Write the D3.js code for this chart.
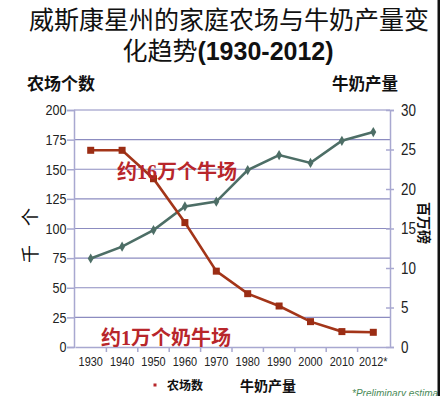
<!DOCTYPE html>
<html><head><meta charset="utf-8">
<script src="https://cdnjs.cloudflare.com/ajax/libs/d3/7.8.5/d3.min.js"></script>
<style>body{margin:0;background:#fff}svg{display:block}</style>
</head><body>
<svg id="c" width="440" height="396"></svg>
<script>
const years = ["1930","1940","1950","1960","1970","1980","1990","2000","2010","2012*"];
const farms = [166,166,142,105,64,45,34.6,21.4,13,12.4];   // 千个
const milk = [11.2,12.7,14.8,17.8,18.4,22.4,24.3,23.3,26.1,27.2]; // 百万磅
const leftTicks = [0,25,50,75,100,125,150,175,200];
const rightTicks = [0,5,10,15,20,25,30];

const svg = d3.select("#c");
const cjk = "'Noto Sans CJK SC','Noto Sans',sans-serif";
const sans = "'Liberation Sans',Arial,sans-serif";
const L = 74, R = 390, T = 110, B = 347;

const x = d3.scaleBand().domain(years).range([L+1, R-1]);
const yL = d3.scaleLinear().domain([0,200]).range([B,T]);
const yR = d3.scaleLinear().domain([0,30]).range([B,T]);

// gridlines
svg.append("g").selectAll("line").data(leftTicks.filter(d=>d>0)).join("line")
  .attr("x1",L).attr("x2",R).attr("y1",d=>yL(d)).attr("y2",d=>yL(d))
  .attr("stroke","#8c8cc0").attr("stroke-width",1.2);

// left axis
const gl = svg.append("g").attr("transform",`translate(${L},0)`)
  .call(d3.axisLeft(yL).tickValues(leftTicks).tickSize(7).tickPadding(2));
gl.select(".domain").attr("stroke","#a8a8d0").attr("stroke-width",1.5);
gl.selectAll(".tick line").attr("stroke","#a8a8d0").attr("stroke-width",1.5);
gl.selectAll("text").attr("font-family",sans).attr("font-size",15).attr("fill","#222")
  .attr("transform","scale(0.84,1)");

// right axis
const gr = svg.append("g").attr("transform",`translate(${R},0)`)
  .call(d3.axisRight(yR).tickValues(rightTicks).tickSize(4).tickPadding(9));
gr.select(".domain").attr("stroke","#a8a8d0").attr("stroke-width",1.5);
gr.selectAll(".tick line").attr("stroke","#a8a8d0").attr("stroke-width",1.5).attr("x1",-4);
gr.selectAll("text").attr("font-family",sans).attr("font-size",16).attr("fill","#222")
  .attr("transform","scale(0.84,1)");

// bottom axis
const gb = svg.append("g").attr("transform",`translate(0,${B})`)
  .call(d3.axisBottom(x).tickSize(0).tickPadding(10));
gb.select(".domain").attr("stroke","#a8a8d0").attr("stroke-width",1.5);
gb.selectAll("text").attr("font-family",sans).attr("font-size",13).attr("fill","#222")
  .attr("transform","scale(0.84,1)");
svg.append("g").selectAll("line").data(years.slice(1)).join("line")
  .attr("x1",d=>x(d)).attr("x2",d=>x(d)).attr("y1",B).attr("y2",B+5)
  .attr("stroke","#a8a8d0").attr("stroke-width",1.5);

const cx = d => x(d) + x.bandwidth()/2;

// milk line (green)
svg.append("path").datum(milk)
  .attr("d", d3.line().x((d,i)=>cx(years[i])).y(d=>yR(d)))
  .attr("fill","none").attr("stroke","#4d6e66").attr("stroke-width",2.6);
svg.append("g").selectAll("path").data(milk).join("path")
  .attr("d", d3.symbol().type(d3.symbolDiamond).size(30))
  .attr("transform",(d,i)=>`translate(${cx(years[i])},${yR(d)})`)
  .attr("fill","#4d6e66");

// farms line (red)
svg.append("path").datum(farms)
  .attr("d", d3.line().x((d,i)=>cx(years[i])).y(d=>yL(d)))
  .attr("fill","none").attr("stroke","#a33519").attr("stroke-width",2.6);
svg.append("g").selectAll("rect").data(farms).join("rect")
  .attr("x",(d,i)=>cx(years[i])-3.5).attr("y",d=>yL(d)-3.5)
  .attr("width",7).attr("height",7).attr("fill","#9b2d14");

// annotations
function anno(xp, yp, parts){
  const t = svg.append("text").attr("x",xp).attr("y",yp).attr("fill","#b8262b")
    .attr("font-size",20).attr("font-weight","bold");
  parts.forEach(p=>t.append("tspan").text(p[0]).attr("font-family",p[1]?"'Liberation Serif','DejaVu Serif',serif":cjk));
}
anno(117, 179, [["约",0],["16",1],["万个牛场",0]]);
anno(101, 345, [["约",0],["1",1],["万个奶牛场",0]]);

// title
svg.append("text").attr("x",229).attr("y",29).attr("text-anchor","middle")
  .attr("font-family",cjk).attr("font-size",25).attr("fill","#111")
  .text("威斯康星州的家庭农场与牛奶产量变");
const t2 = svg.append("text").attr("x",228).attr("y",60).attr("text-anchor","middle")
  .attr("font-size",25).attr("fill","#111");
t2.append("tspan").attr("font-family",cjk).text("化趋势");
t2.append("tspan").attr("font-family",sans).attr("font-weight","bold").text("(1930-2012)");

// axis titles
svg.append("text").attr("x",27).attr("y",90).attr("font-family",cjk).attr("font-weight","bold")
  .attr("font-size",17).attr("fill","#111").text("农场个数");
svg.append("text").attr("x",332).attr("y",90).attr("font-family",cjk).attr("font-weight","bold")
  .attr("font-size",16.5).attr("fill","#111").text("牛奶产量");
[["个",217],["千",254]].forEach(([c,yy])=>{
  svg.append("text").attr("transform",`translate(29,${yy}) rotate(-90)`)
    .attr("text-anchor","middle").attr("dominant-baseline","central")
    .attr("font-family",cjk).attr("font-size",18).attr("fill","#111").text(c);
});
svg.append("text").attr("transform",`translate(425,223) rotate(90)`)
  .attr("text-anchor","middle").attr("dominant-baseline","central")
  .attr("font-family",cjk).attr("font-weight","bold").attr("font-size",14).attr("fill","#111").text("百万磅");

// legend
svg.append("rect").attr("x",153.5).attr("y",383.5).attr("width",3).attr("height",3).attr("fill","#b8262b");
svg.append("text").attr("x",167).attr("y",390).attr("font-family",cjk).attr("font-weight","bold")
  .attr("font-size",12).attr("fill","#111").text("农场数");
svg.append("text").attr("x",240).attr("y",391).attr("font-family",cjk).attr("font-weight","bold")
  .attr("font-size",14).attr("fill","#111").text("牛奶产量");
svg.append("text").attr("x",352).attr("y",397).attr("font-family",sans).attr("font-style","italic")
  .attr("font-size",10).attr("fill","#4a8a58").text("*Preliminary estimate");

// right border
svg.append("rect").attr("x",437.5).attr("y",0).attr("width",2.5).attr("height",396).attr("fill","#111");
</script>
</body></html>
